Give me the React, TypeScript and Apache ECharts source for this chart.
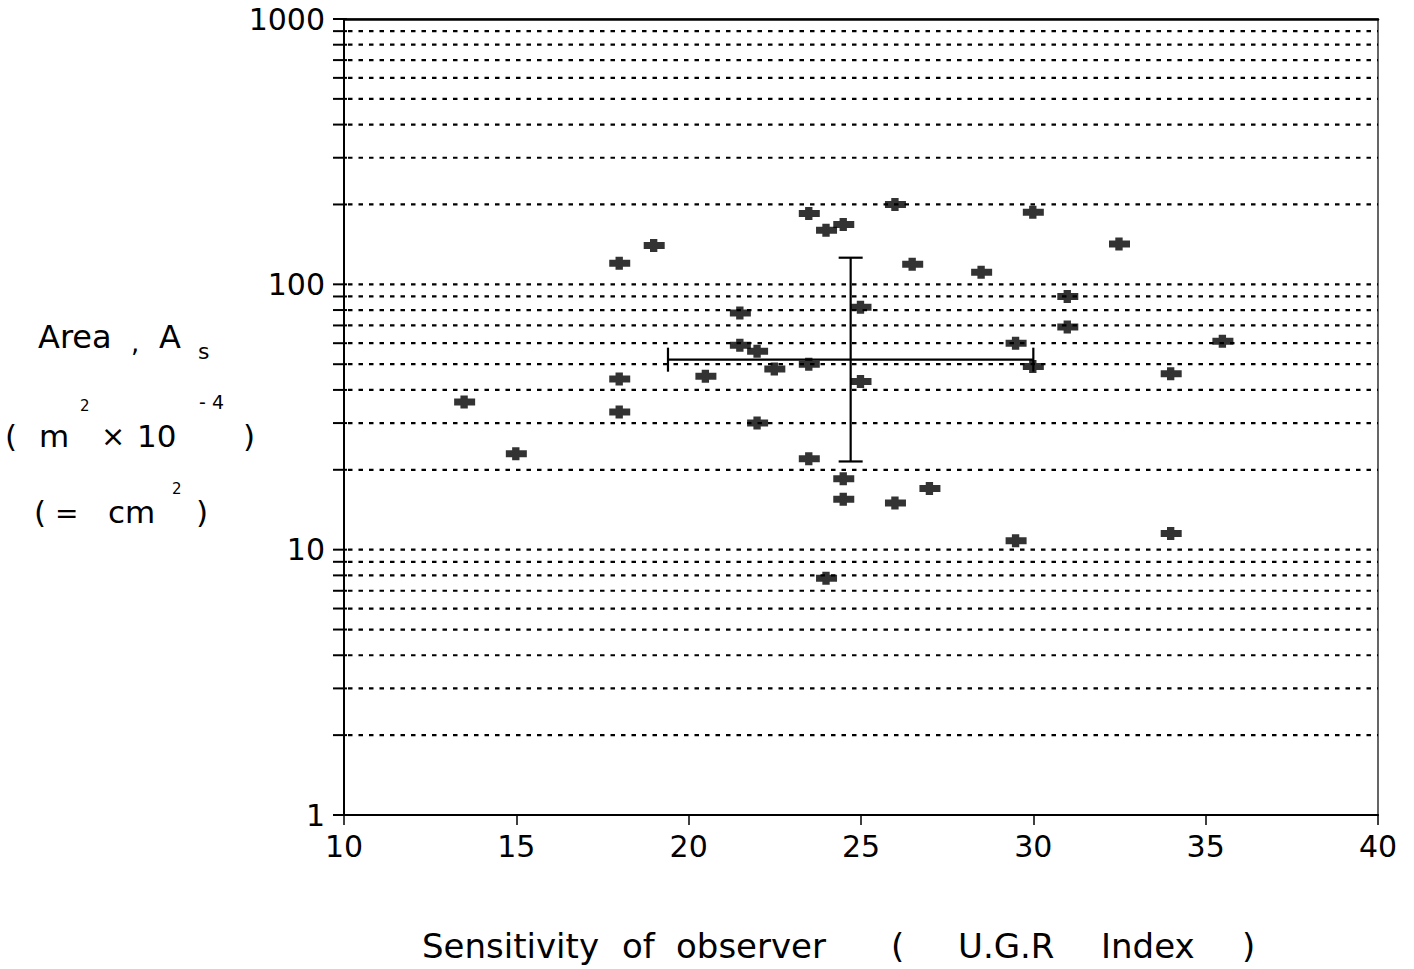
import React, { useEffect, useRef } from "react";
import * as echarts from "echarts";

// Axis ticks
const xTickStep = 5;
const xMin = 10;
const xMax = 40;
const yMin = 1;
const yMax = 1000;
// positions of the y-axis ticks (every 1..9 x 10^n) – dotted reference lines drawn at the inner ones
const yTickValues = [
  1, 2, 3, 4, 5, 6, 7, 8, 9,
  10, 20, 30, 40, 50, 60, 70, 80, 90,
  100, 200, 300, 400, 500, 600, 700, 800, 900,
  1000,
];

// Observations: sensitivity (U.G.R index) vs area A_s (cm^2)
const ugr = [
  13.5, 15, 18, 18, 18, 19, 20.5, 21.5, 21.5, 22, 22, 22.5, 23.5, 23.5, 23.5,
  24, 24.5, 24.5, 24.5, 24, 25, 25, 26, 26, 26.5, 27, 28.5, 29.5, 29.5, 30, 30,
  31, 31, 32.5, 34, 34, 35.5,
];
const area = [
  36, 23, 120, 44, 33, 140, 45, 78, 59, 56, 30, 48, 185, 50, 22,
  160, 168, 18.5, 15.5, 7.8, 82, 43, 200, 15, 119, 17, 111, 60, 10.8, 187, 49,
  90, 69, 142, 46, 11.5, 61,
];

// Mean with spread bars
const meanUgr = 24.7;
const meanArea = 52;
const ugrSpread = [19.4, 30.0];
const areaSpread = [21.5, 126];

const INK = "#000";
const FONT = "DejaVu Sans";

export default function App() {
  const ref = useRef<HTMLDivElement>(null);

  useEffect(() => {
    if (!ref.current) return;
    const chart = echarts.init(ref.current, undefined, { renderer: "svg" });

    const points = ugr.map((x, i) => [x, area[i]]);

    const txt = (x: number, y: number, text: string, fontSize: number) => ({
      type: "text",
      x,
      y,
      style: { text, fontSize, fontFamily: FONT, fill: INK, align: "left", verticalAlign: "middle" },
    });

    const option: any = {
      animation: false,
      backgroundColor: "#fff",
      grid: {
        left: 344,
        right: 36,
        top: 19,
        bottom: 154,
        show: true,
        borderColor: INK,
        borderWidth: 1.2,
        backgroundColor: "transparent",
      },
      xAxis: [
        {
          type: "value",
          min: xMin,
          max: xMax,
          interval: xTickStep,
          axisLine: { show: true, onZero: false, lineStyle: { color: INK, width: 2.2 } },
          axisTick: { show: true, length: 10, inside: false, lineStyle: { color: INK, width: 1.5 } },
          axisLabel: { color: INK, fontSize: 30, fontFamily: FONT, margin: 16 },
          splitLine: { show: false },
        },
        {
          type: "value",
          position: "top",
          min: xMin,
          max: xMax,
          interval: xTickStep,
          axisLine: { show: true, onZero: false, lineStyle: { color: INK, width: 2.5 } },
          axisTick: { show: false },
          axisLabel: { show: false },
          splitLine: { show: false },
        },
      ],
      yAxis: {
        type: "log",
        logBase: 10,
        min: yMin,
        max: yMax,
        axisLine: { show: true, onZero: false, lineStyle: { color: INK, width: 2 } },
        axisTick: { show: false },
        minorTick: { show: false },
        axisLabel: {
          color: INK,
          fontSize: 30,
          fontFamily: FONT,
          margin: 19,
          formatter: (v: number) => String(Math.round(v)),
        },
        splitLine: { show: false },
      },
      series: [
        {
          type: "custom",
          name: "grid",
          silent: true,
          z: 1,
          data: yTickValues.map((v) => [xMin, v]),
          renderItem: (params: any, api: any) => {
            const v = api.value(1);
            const p0 = api.coord([xMin, v]);
            const p1 = api.coord([xMax, v]);
            const children: any[] = [
              {
                type: "line",
                shape: { x1: p0[0] - 11, y1: p0[1], x2: p0[0] + 3, y2: p0[1] },
                style: { stroke: INK, lineWidth: 2 },
              },
            ];
            if (v > yMin && v < yMax) {
              children.push({
                type: "line",
                shape: { x1: p0[0] + 4, y1: p0[1], x2: p1[0], y2: p1[1] },
                style: { stroke: INK, lineWidth: 2.2, lineDash: [4.5, 6] },
              });
            }
            return { type: "group", children };
          },
        },
        {
          type: "custom",
          name: "spread",
          silent: true,
          z: 3,
          data: [[meanUgr, meanArea, ugrSpread[0], ugrSpread[1], areaSpread[0], areaSpread[1]]],
          renderItem: (params: any, api: any) => {
            const my = api.value(1);
            const mx = api.value(0);
            const l = api.coord([api.value(2), my]);
            const r = api.coord([api.value(3), my]);
            const b = api.coord([mx, api.value(4)]);
            const t = api.coord([mx, api.value(5)]);
            const st = { stroke: INK, lineWidth: 2.2 };
            const cap = 12;
            return {
              type: "group",
              children: [
                { type: "line", shape: { x1: l[0], y1: l[1], x2: r[0], y2: r[1] }, style: st },
                { type: "line", shape: { x1: l[0], y1: l[1] - cap, x2: l[0], y2: l[1] + cap }, style: st },
                { type: "line", shape: { x1: r[0], y1: r[1] - cap, x2: r[0], y2: r[1] + cap }, style: st },
                { type: "line", shape: { x1: t[0], y1: t[1], x2: b[0], y2: b[1] }, style: st },
                { type: "line", shape: { x1: t[0] - cap, y1: t[1], x2: t[0] + cap, y2: t[1] }, style: st },
                { type: "line", shape: { x1: b[0] - cap, y1: b[1], x2: b[0] + cap, y2: b[1] }, style: st },
              ],
            };
          },
        },
        {
          type: "scatter",
          name: "observers",
          z: 5,
          symbol: "path://M0,3 H6 V0 H13 V3 H20 V10 H13 V13 H6 V10 H0 Z",
          symbolSize: [21, 13],
          itemStyle: { color: INK },
          data: points,
        },
      ],
      graphic: [
        // y-axis title
        txt(38, 337, "Area", 32),
        txt(131, 343, ",", 26),
        txt(159, 337, "A", 32),
        txt(198, 351, "s", 22),

        txt(5, 436, "(", 31),
        txt(39, 436, "m", 31),
        txt(80, 406, "2", 15),
        txt(101, 436, "×", 29),
        txt(137, 436, "10", 31),
        txt(199, 402, "- 4", 19),
        txt(243, 436, ")", 31),

        txt(34, 512, "(", 31),
        txt(55, 513, "=", 28),
        txt(108, 512, "cm", 31),
        txt(172, 489, "2", 15),
        txt(196, 512, ")", 31),

        // x-axis title
        txt(422, 946, "Sensitivity", 34),
        txt(622, 946, "of", 34),
        txt(676, 946, "observer", 34),
        txt(891, 946, "(", 34),
        txt(958, 946, "U.G.R", 34),
        txt(1101, 946, "Index", 34),
        txt(1242, 946, ")", 34),
      ],
    };

    chart.setOption(option);
    return () => chart.dispose();
  }, []);

  return (
    <div
      ref={ref}
      style={{ position: "fixed", left: 0, top: 0, width: 1414, height: 969, background: "#fff" }}
    />
  );
}
